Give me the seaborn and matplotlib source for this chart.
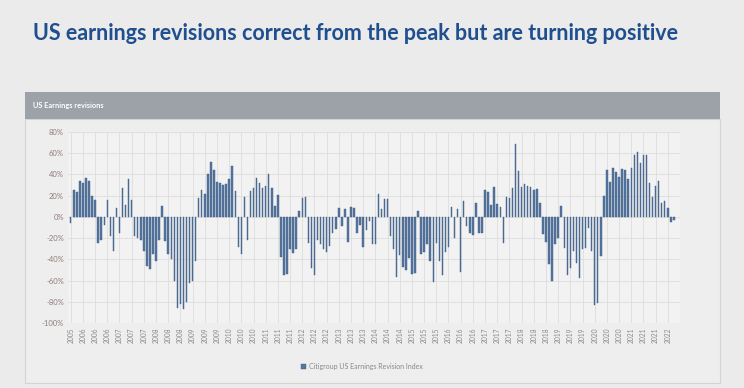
import matplotlib
matplotlib.use("Agg")
import matplotlib.pyplot as plt
import matplotlib.patches as mpatches
import pandas as pd
import seaborn as sns

# Citigroup US Earnings Revision Index, monthly (%)
rev_2005_2010 = [-6, 25, 23, 34, 32, 37, 34, 20, 16, -25,
                 -22, -8, 16, -18, -32, 8, -15, 27, 11, 36,
                 16, -18, -20, -22, -32, -46, -49, -35, -42, -22,
                 10, -23, -35, -40, -60, -86, -82, -87, -80, -62,
                 -60, -42, 18, 25, 22, 40, 52, 44, 33, 32,
                 30, 31, 36, 48, 24, -28, -35, 19, -22, 24,
                 27, 37, 32, 27, 29, 40]
rev_2011_2016 = [27, 10, 21, -38, -55, -54, -30, -34, -30, 6,
                 18, 19, -25, -48, -55, -22, -26, -30, -33, -27,
                 -15, -11, 8, -9, 7, -24, 9, 8, -15, -8,
                 -28, -12, -4, -26, -26, 22, 7, 17, 17, -18,
                 -30, -57, -36, -47, -50, -39, -54, -53, 6, -35,
                 -33, -26, -42, -61, -25, -42, -55, -33, -28, 9,
                 -20, 7, -52, 15, -9, -15, -17, 13, -15, -15,
                 25, 23, 11, 28, 12, 9, -25, 19]
rev_2017_2022 = [18, 27, 69, 43, 28, 31, 29, 28, 25, 26,
                 13, -16, -24, -44, -60, -26, -20, 10, -29, -55,
                 -48, -32, -43, -58, -30, -29, -10, -32, -83, -81,
                 -37, 20, 44, 33, 46, 42, 38, 45, 44, 36,
                 46, 58, 61, 51, 58, 58, 32, 19, 29, 34,
                 13, 15, 8, -5, -3]

year_labels = ["2005",
               "2006", "2006", "2006", "2007", "2007", "2007",
               "2008", "2008", "2008", "2009", "2009", "2009",
               "2010", "2010", "2010", "2011", "2011", "2011",
               "2012", "2012", "2012", "2013", "2013", "2013",
               "2014", "2014", "2014", "2015", "2015", "2015",
               "2016", "2016", "2016", "2017", "2017", "2017",
               "2018", "2018", "2018", "2019", "2019", "2019",
               "2020", "2020", "2020", "2021", "2021", "2021",
               "2022"]

values = rev_2005_2010 + rev_2011_2016 + rev_2017_2022
df = pd.DataFrame({"month": range(len(values)), "revision": values})

sns.set_style("white")
plt.rcParams["font.family"] = ["Lato", "DejaVu Sans"]

W, H = 744, 388
fig = plt.figure(figsize=(W / 100, H / 100), dpi=100, facecolor="#ebebeb")

# slide title
fig.text(33 / W, 1 - 34 / H, "US earnings revisions correct from the peak but are turning positive",
         fontsize=15.5, fontweight="bold", color="#1f4f8f", va="center", ha="left")

# chart panel and header bar (behind the axes)
fig.patches.append(mpatches.Rectangle((25 / W, 1 - 383 / H), 695 / W, (383 - 119) / H,
                                      transform=fig.transFigure, facecolor="#eeeeee",
                                      edgecolor="#d4d4d4", linewidth=0.8, zorder=-10))
fig.patches.append(mpatches.Rectangle((25 / W, 1 - 119 / H), 695 / W, 27 / H,
                                      transform=fig.transFigure, facecolor="#9ca2a8",
                                      edgecolor="none", zorder=-10))
fig.text(33 / W, 1 - 105.5 / H, "US Earnings revisions", fontsize=5.3, fontweight="bold",
         color="white", va="center", ha="left")

ax = fig.add_axes([68 / W, 1 - 323 / H, 612 / W, (323 - 132) / H])
ax.set_facecolor("#f2f2f2")

sns.barplot(data=df, x="month", y="revision", color="#5677a0", edgecolor="#3a5a82",
            linewidth=0.3, width=0.48, saturation=1, label="Citigroup US Earnings Revision Index",
            ax=ax)

ax.set_ylim(-100, 80)
ax.set_yticks(range(-100, 81, 20))
ax.set_yticklabels([f"{v}%" for v in range(-100, 81, 20)], fontsize=5.5, color="#937a7a")
tick_pos = list(range(0, 4 * len(year_labels), 4))
ax.set_xticks(tick_pos)
ax.set_xticklabels(year_labels, rotation=90, fontsize=4.8, color="#8a8a8a")
ax.set_xlim(-0.9, 200)
ax.tick_params(length=0, pad=3)
ax.set_xlabel("")
ax.set_ylabel("")
ax.grid(True, color="#dddddd", linewidth=0.6)
ax.set_axisbelow(True)
for s in ax.spines.values():
    s.set_visible(False)

if ax.legend_ is not None:
    ax.legend_.remove()
handles, labels = ax.get_legend_handles_labels()
fig.legend(handles[:1], labels[:1], loc="center", bbox_to_anchor=(362 / W, 1 - 366 / H),
           frameon=False, fontsize=5, handlelength=0.7, handleheight=0.7, handletextpad=0.4,
           labelcolor="#8a8a8a")

fig.savefig("out.png", dpi=100, facecolor=fig.get_facecolor())
